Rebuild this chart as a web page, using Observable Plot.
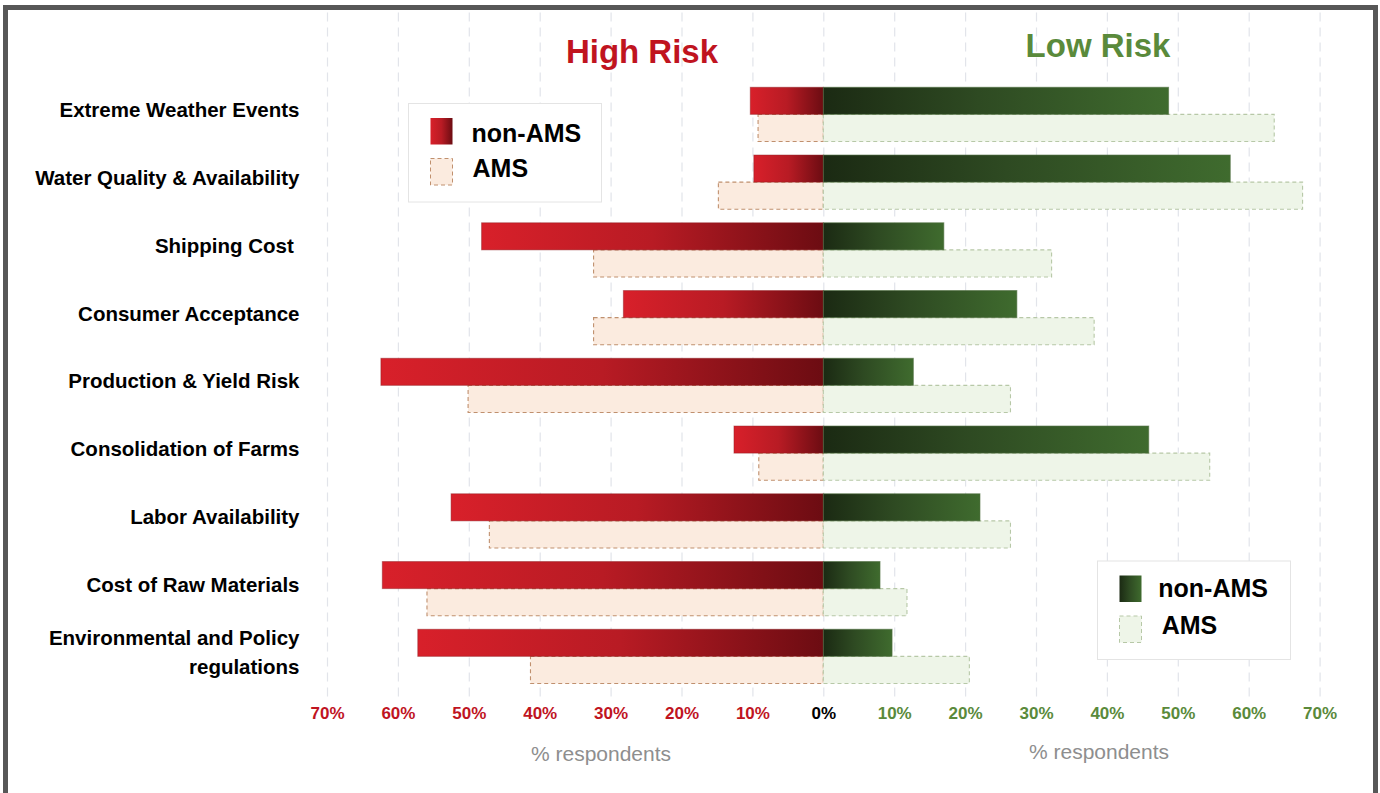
<!DOCTYPE html>
<html>
<head>
<meta charset="utf-8">
<script src="https://cdn.jsdelivr.net/npm/d3@7"></script>
<script src="https://cdn.jsdelivr.net/npm/@observablehq/plot@0.6"></script>
<style>
  html, body { margin: 0; padding: 0; background: #fff; overflow: hidden; }
  #wrap { position: relative; width: 1380px; height: 793px; }
  #frame { position: absolute; left: 3px; top: 5px; width: 1375px; height: 820px;
           box-sizing: border-box; border: 5px solid #575757; border-bottom: none; pointer-events: none; }
  svg text { white-space: pre; }
</style>
</head>
<body>
<div id="wrap"><div id="frame"></div></div>
<script>
// Risk factors, top to bottom
const categories = [
  "Extreme Weather Events",
  "Water Quality & Availability",
  "Shipping Cost ",
  "Consumer Acceptance",
  "Production & Yield Risk",
  "Consolidation of Farms",
  "Labor Availability",
  "Cost of Raw Materials",
  "Environmental and Policy\nregulations"
];

// % respondents rating each factor as high risk
const highNonAMS = [10.3, 9.8, 48.2, 28.2, 62.4, 12.6, 52.5, 62.2, 57.2];
const highAMS    = [9.2, 14.8, 32.4, 32.4, 50.1, 9.1, 47.1, 55.9, 41.3];
// % respondents rating each factor as low risk
const lowNonAMS  = [48.7, 57.4, 17.0, 27.3, 12.7, 45.9, 22.1, 8.0, 9.7];
const lowAMS     = [63.6, 67.6, 32.2, 38.2, 26.4, 54.5, 26.4, 11.8, 20.6];

const tickValues = [-70, -60, -50, -40, -30, -20, -10, 0, 10, 20, 30, 40, 50, 60, 70];

const W = 1380, H = 793;
const mTop = 80.5, mBottom = 102.75, mLeft = 327, mRight = 60.4;
const step = (H - mTop - mBottom) / categories.length;
const half = step * 0.8 / 2;

const rows = (values, sign) => categories.map((c, i) => ({cat: c, v: sign * values[i]}));
const hiNon = rows(highNonAMS, -1), hiAms = rows(highAMS, -1);
const loNon = rows(lowNonAMS, 1),  loAms = rows(lowAMS, 1);

const RED = "#c0141f", GREEN = "#5a8a3b";
const font = "'Liberation Sans', Arial, Helvetica, sans-serif";

const svg = Plot.plot({
  width: W, height: H,
  marginTop: mTop, marginBottom: mBottom, marginLeft: mLeft, marginRight: mRight,
  style: {fontFamily: font, background: "transparent", overflow: "visible"},
  x: {domain: [-70, 70], axis: null},
  y: {domain: categories, paddingInner: 0.2, paddingOuter: 0.1, round: false, axis: null},
  marks: [
    // dashed vertical gridlines
    Plot.ruleX(tickValues, {x: d => d, stroke: "#e2e4ea", strokeDasharray: "9,6", strokeWidth: 1.2,
      insetTop: -68, insetBottom: -7}),
    // AMS bars (lower half of each row)
    Plot.barX(hiAms, {x1: () => 0, x2: "v", y: "cat", insetTop: half,
      fill: "#fbebdf", stroke: "#c0906e", strokeWidth: 1.1, strokeDasharray: "4,3"}),
    Plot.barX(loAms, {x1: () => 0, x2: "v", y: "cat", insetTop: half,
      fill: "#eef5e8", stroke: "#b7c8a7", strokeWidth: 1.1, strokeDasharray: "4,3"}),
    // non-AMS bars (upper half of each row)
    Plot.barX(hiNon, {x1: () => 0, x2: "v", y: "cat", insetBottom: half,
      fill: "url(#gradRed)", stroke: "#8c1a20", strokeOpacity: 0.45, strokeWidth: 1}),
    Plot.barX(loNon, {x1: () => 0, x2: "v", y: "cat", insetBottom: half,
      fill: "url(#gradGreen)", stroke: "#4f6e40", strokeOpacity: 0.6, strokeWidth: 1}),
    // tick labels
    Plot.text(tickValues, {x: d => d, text: d => Math.abs(d) + "%", frameAnchor: "bottom", dy: 28,
      fill: d => d < 0 ? RED : d > 0 ? GREEN : "#000", fontSize: 17, fontWeight: "bold"}),
    // category labels
    Plot.text(categories, {y: d => d, text: d => d, frameAnchor: "left", textAnchor: "end",
      dx: -28, dy: -7, fontSize: 20.5, fontWeight: "bold", fill: "#000", lineHeight: 1.46})
  ]
});

const s = d3.select(svg);
const defs = s.insert("defs", ":first-child");
const grad = (id, stops) => {
  const g = defs.append("linearGradient").attr("id", id).attr("x1", 0).attr("x2", 1).attr("y1", 0).attr("y2", 0);
  stops.forEach(([o, c]) => g.append("stop").attr("offset", o).attr("stop-color", c));
};
grad("gradRed", [[0, "#d8202a"], [0.5, "#b81b24"], [1, "#6c0c12"]]);
grad("gradGreen", [[0, "#1b2a13"], [0.45, "#2e4a22"], [1, "#3f6b2e"]]);

// headings, half-axis titles and legends
const ov = s.append("g").attr("font-family", font);
const txt = (x, y, t, o) => {
  const e = ov.append("text").attr("x", x).attr("y", y).text(t)
    .attr("font-size", o.size).attr("fill", o.fill || "#000")
    .attr("font-weight", o.weight || "bold").attr("text-anchor", o.anchor || "start");
  return e;
};
txt(642, 63, "High Risk", {size: 33, fill: RED, anchor: "middle"});
txt(1098, 57, "Low Risk", {size: 33, fill: GREEN, anchor: "middle"});
txt(601, 760.5, "% respondents", {size: 21, fill: "#8e8e8e", weight: "normal", anchor: "middle"});
txt(1099, 759, "% respondents", {size: 21, fill: "#8e8e8e", weight: "normal", anchor: "middle"});

const legend = (bx, by, gradId, amsFill, amsStroke, t1, t2) => {
  ov.append("rect").attr("x", bx).attr("y", by).attr("width", 193).attr("height", 98.5)
    .attr("fill", "#fff").attr("stroke", "#e4e4e4");
  ov.append("rect").attr("x", bx + 22).attr("y", by + 14.5).attr("width", 22).attr("height", 26.5)
    .attr("fill", `url(#${gradId})`);
  ov.append("rect").attr("x", bx + 22).attr("y", by + 55).attr("width", 22).attr("height", 26.5)
    .attr("fill", amsFill).attr("stroke", amsStroke).attr("stroke-dasharray", "4,3");
  txt(t1[0], t1[1], "non-AMS", {size: 25});
  txt(t2[0], t2[1], "AMS", {size: 25});
};
legend(408.5, 103.5, "gradRed", "#fbebdf", "#c0906e", [471.5, 141.7], [472.5, 177.3]);
legend(1097.5, 561, "gradGreen", "#eef5e8", "#b7c8a7", [1158.3, 596.7], [1161.7, 634]);

document.getElementById("wrap").prepend(svg);
svg.style.position = "absolute";
svg.style.left = "0";
svg.style.top = "0";
</script>
</body>
</html>
